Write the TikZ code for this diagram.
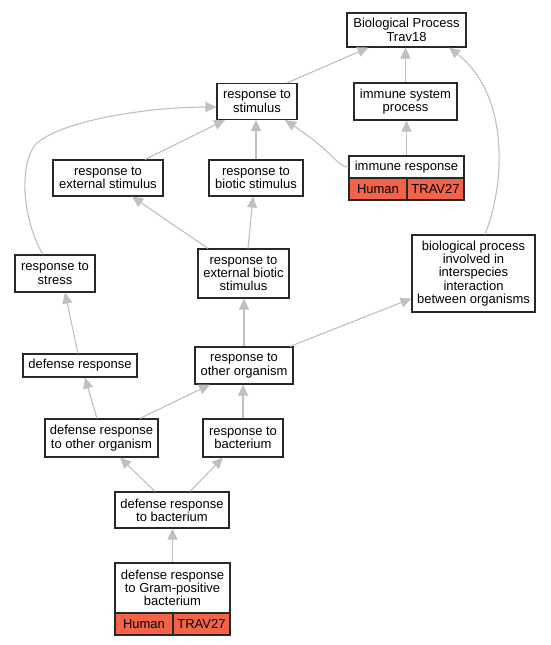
\documentclass[tikz,border=0pt]{standalone}
\usepackage{fontspec}
\setmainfont{Liberation Sans}
\usetikzlibrary{arrows.meta}
\definecolor{edgec}{RGB}{192,192,192}
\definecolor{cellred}{RGB}{244,99,72}
\definecolor{boxline}{RGB}{40,40,40}
\begin{document}
\begin{tikzpicture}[x=1pt,y=-1pt,
  gobox/.style={draw=boxline, line width=1.1pt, fill=white, inner sep=0pt, align=center, font=\fontsize{13}{13.3}\selectfont},
  cell/.style={gobox, fill=cellred},
  edge/.style={draw=edgec, line width=1.1pt, -{Triangle[length=11pt,width=10pt]}}]
\useasboundingbox[fill=white] (0,0) rectangle (551,645);

\node[gobox, minimum width=119pt, minimum height=34pt] (bp) at (406.5,30) {Biological Process\\Trav18};
\node[gobox, minimum width=103pt, minimum height=37pt] (isp) at (405.5,101.5) {immune system\\process};
\node[gobox, minimum width=80pt, minimum height=36pt] (rs) at (257,101.5) {response to\\stimulus};
\node[gobox, minimum width=115pt, minimum height=22pt] (irt) at (406.5,167) {immune response};
\node[cell, minimum width=58pt, minimum height=22pt] (irh) at (378,189) {Human};
\node[cell, minimum width=57pt, minimum height=22pt] (irv) at (435.5,189) {TRAV27};
\node[gobox, minimum width=94pt, minimum height=36pt] (rbs) at (256,178) {response to\\biotic stimulus};
\node[gobox, minimum width=110pt, minimum height=36pt] (res) at (108,178) {response to\\external stimulus};
\node[gobox, minimum width=80pt, minimum height=37pt] (rst) at (55,273.5) {response to\\stress};
\node[gobox, minimum width=91pt, minimum height=49pt] (rebs) at (243.5,273.5) {response to\\external biotic\\stimulus};
\node[gobox, minimum width=123pt, minimum height=77pt] (bpi) at (473.5,273.5) {biological process\\involved in\\interspecies\\interaction\\between organisms};
\node[gobox, minimum width=114pt, minimum height=23pt] (dr) at (80,365.5) {defense response};
\node[gobox, minimum width=98pt, minimum height=37pt] (roo) at (244,365.5) {response to\\other organism};
\node[gobox, minimum width=113pt, minimum height=38pt] (droo) at (101.5,438) {defense response\\to other organism};
\node[gobox, minimum width=80pt, minimum height=38pt] (rb) at (243,438) {response to\\bacterium};
\node[gobox, minimum width=114pt, minimum height=36pt] (drb) at (172,510) {defense response\\to bacterium};
\node[gobox, minimum width=115pt, minimum height=50pt] (gpt) at (172.5,588) {defense response\\to Gram-positive\\bacterium};
\node[cell, minimum width=58pt, minimum height=22pt] (gph) at (144,624) {Human};
\node[cell, minimum width=57pt, minimum height=22pt] (gpv) at (201.5,624) {TRAV27};

\draw[edge] (isp.north) -- (isp.north |- bp.south);
\draw[edge] ([xshift=30pt]rs.north) -- ([xshift=-38pt]bp.south);
\draw[edge] ([xshift=11.5pt]bpi.north) .. controls (505,185) and (510,95) .. ([xshift=42.5pt]bp.south);
\draw[edge] (irt.north) -- (irt.north |- isp.south);
\draw[edge] (irt.west) .. controls (337,167) and (335,153) .. ([xshift=28pt]rs.south);
\draw[edge] ([xshift=37pt]res.north) -- ([xshift=-32pt]rs.south);
\draw[edge] (rbs.north) -- (rbs.north |- rs.south);
\draw[edge] ([xshift=-12pt]rst.north) .. controls (25,225) and (17,170) .. (35,145) .. controls (60,120) and (150,107) .. ([yshift=-5.5pt]rs.west);
\draw[edge] ([xshift=-35.5pt]rebs.north) -- ([xshift=24pt]res.south);
\draw[edge] ([xshift=4.5pt]rebs.north) -- ([xshift=-3pt]rbs.south);
\draw[edge] (roo.north) -- (roo.north |- rebs.south);
\draw[edge] ([xshift=46pt]roo.north) -- ([yshift=-25pt]bpi.west);
\draw[edge] ([xshift=-2pt]dr.north) -- ([xshift=10pt]rst.south);
\draw[edge] ([xshift=-4.5pt]droo.north) -- ([xshift=5pt]dr.south);
\draw[edge] ([xshift=38.5pt]droo.north) -- ([xshift=-34pt]roo.south);
\draw[edge] (rb.north) -- (rb.north |- roo.south);
\draw[edge] ([xshift=-17pt]drb.north) -- ([xshift=18.5pt]droo.south);
\draw[edge] ([xshift=18pt]drb.north) -- ([xshift=-20pt]rb.south);
\draw[edge] (gpt.north) -- (gpt.north |- drb.south);
\end{tikzpicture}
\end{document}
